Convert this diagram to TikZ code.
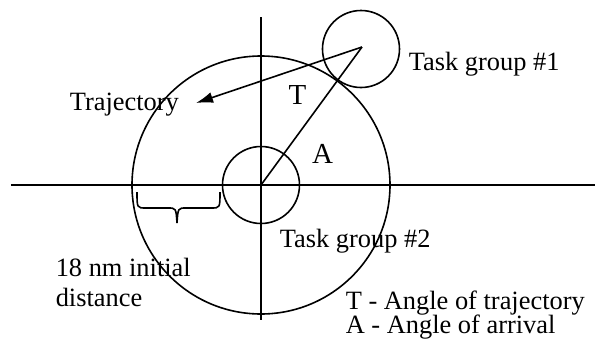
\documentclass[tikz,border=0pt]{standalone}
\usepackage{fontspec}
\setmainfont{Liberation Serif}
\usetikzlibrary{arrows.meta}

\begin{document}
\begin{tikzpicture}[x=0.5pt,y=0.5pt,line width=0.8pt,
    lbl/.style={anchor=base west,inner sep=0pt,font=\fontsize{13.2}{15}\selectfont},
    ang/.style={inner sep=0pt,font=\fontsize{14.5}{17}\selectfont}]
    % Fix the size of the page
    \useasboundingbox (-261,185) rectangle (334,-154);

    % Draw the axes and the circles
    \draw (-250,0) -- (334,0);
    \draw (0,168) -- (0,-135);
    \draw (0,0) circle (129);
    \draw (0,0) circle (38.5);
    \draw (100,136) circle (38.5);

    \coordinate (origin) at (0,0);
    \coordinate (tgone) at (101,138);
    \coordinate (trajend) at (-65,82);
    \draw (origin) -- (tgone);
    \draw[-{Latex[length=8.5pt,width=5.5pt]}] (tgone) -- (trajend);

    % Brace under the axis
    \draw (-124,-7) .. controls (-124,-23) .. (-115,-23) -- (-93,-23)
        .. controls (-85,-23) .. (-84,-38) .. controls (-83,-23) .. (-75,-23)
        -- (-50,-23) .. controls (-41,-23) .. (-41,-7);

    \node[lbl] (traj) at (-192,75) {Trajectory};
    \node[ang] (angT) at (36.5,90) {T};
    \node[ang] (angA) at (61.5,31.5) {A};
    \node[lbl] (grpone) at (147,115) {Task group \#1};
    \node[lbl] (grptwo) at (18,-62) {Task group \#2};
    \node[lbl] (dist) at (-206,-91.7) {18 nm initial};
    \node[lbl] (distb) at (-206,-121.7) {distance};
    \node[lbl] (keyT) at (84,-124) {T - Angle of trajectory};
    \node[lbl] (keyA) at (84,-148) {A - Angle of arrival};
\end{tikzpicture}
\end{document}
